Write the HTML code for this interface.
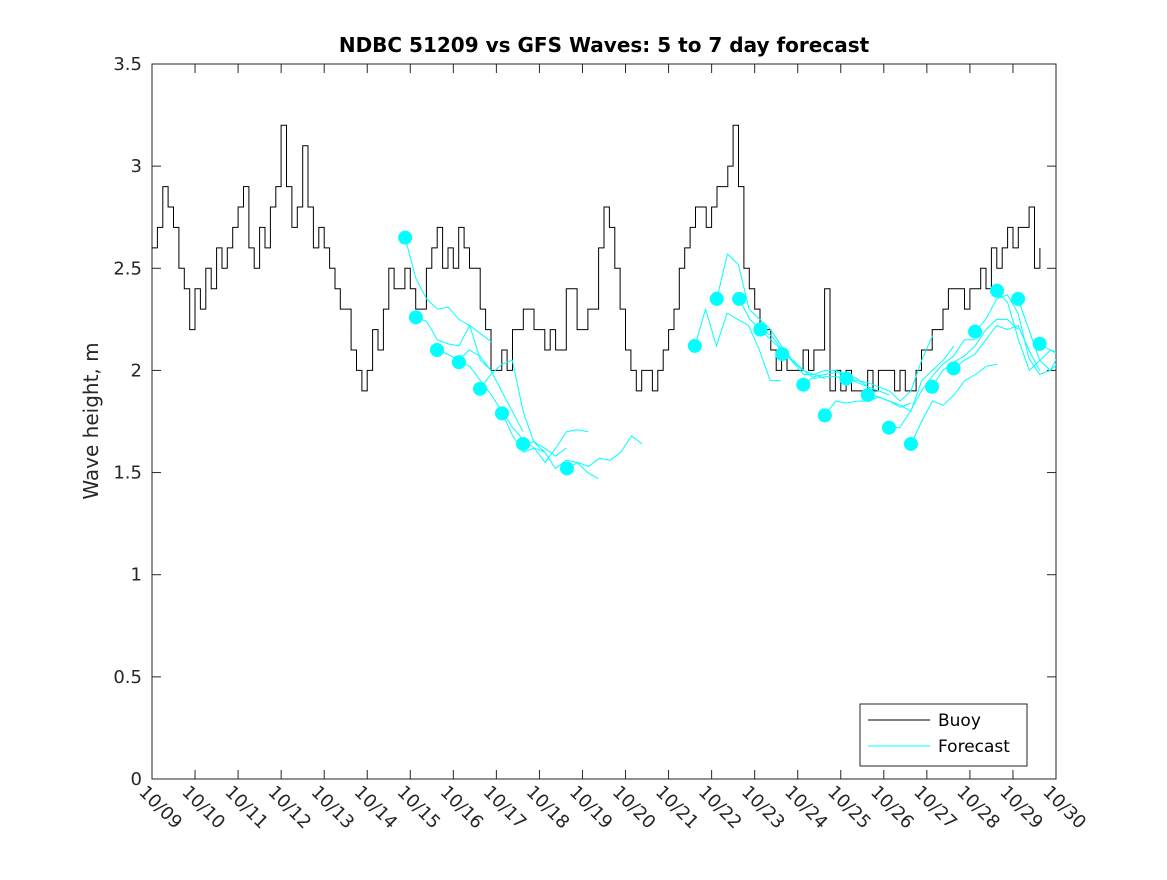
<!DOCTYPE html>
<html><head><meta charset="utf-8"><style>
body{margin:0;background:#fff;font-family:"Liberation Sans","DejaVu Sans",sans-serif}
svg text{font-family:"DejaVu Sans","Liberation Sans",sans-serif}
</style></head><body>
<svg id="chart" width="1167" height="875">
<rect width="1167" height="875" fill="#fff"/>
<text x="604" y="52" text-anchor="middle" font-size="20" font-weight="bold" fill="#000">NDBC 51209 vs GFS Waves: 5 to 7 day forecast</text>
<text transform="translate(98,421) rotate(-90)" text-anchor="middle" font-size="20" fill="#262626">Wave height, m</text>
<g id="axes"></g>
<g id="marks"></g>
<g id="legend">
<rect x="860" y="704" width="167" height="62" fill="#fff" stroke="#262626" stroke-width="1"/>
<line x1="868" y1="720" x2="930" y2="720" stroke="#000" stroke-width="1"/>
<text x="938" y="726" font-size="17" fill="#000">Buoy</text>
<line x1="868" y1="746" x2="930" y2="746" stroke="#00ffff" stroke-width="1"/>
<text x="938" y="752" font-size="17" fill="#000">Forecast</text>
</g>
</svg>
<script>
const xTickLabels=["10/09","10/10","10/11","10/12","10/13","10/14","10/15","10/16","10/17","10/18","10/19","10/20","10/21","10/22","10/23","10/24","10/25","10/26","10/27","10/28","10/29","10/30"];
const yTicks=[0,0.5,1,1.5,2,2.5,3,3.5];
const yTickLabels=["0","0.5","1","1.5","2","2.5","3","3.5"];
const buoyStart=0, buoyStep=0.125;
const buoyValues=[2.6,2.7,2.9,2.8,2.7,2.5,2.4,2.2,2.4,2.3,2.5,2.4,2.6,2.5,2.6,2.7,2.8,2.9,2.6,2.5,2.7,2.6,2.8,2.9,3.2,2.9,2.7,2.8,3.1,2.8,2.6,2.7,2.6,2.5,2.4,2.3,2.3,2.1,2.0,1.9,2.0,2.2,2.1,2.3,2.5,2.4,2.4,2.5,2.4,2.3,2.3,2.5,2.6,2.7,2.5,2.6,2.5,2.7,2.6,2.5,2.5,2.3,2.2,2.0,2.0,2.1,2.0,2.2,2.2,2.3,2.3,2.2,2.2,2.1,2.2,2.1,2.1,2.4,2.4,2.2,2.2,2.3,2.3,2.6,2.8,2.7,2.5,2.3,2.1,2.0,1.9,2.0,2.0,1.9,2.0,2.1,2.2,2.3,2.5,2.6,2.7,2.8,2.8,2.7,2.8,2.9,2.9,3.0,3.2,2.9,2.5,2.4,2.3,2.2,2.2,2.1,2.0,2.1,2.0,2.0,2.0,2.1,2.0,2.1,2.1,2.4,1.9,2.0,1.9,2.0,1.9,1.9,1.9,2.0,1.9,2.0,2.0,2.0,1.9,2.0,1.9,1.9,2.0,2.1,2.1,2.2,2.2,2.3,2.4,2.4,2.4,2.3,2.4,2.4,2.5,2.4,2.6,2.5,2.6,2.7,2.6,2.7,2.7,2.8,2.5,2.6];
const fcStarts=[5.88,6.13,6.62,7.13,7.62,8.13,8.62,9.64,12.61,13.12,13.64,14.13,14.64,15.13,15.63,16.13,16.63,17.12,17.63,18.12,18.62,19.12,19.63,20.12,20.62];
const fcValues=[
[2.65,2.45,2.35,2.30,2.31,2.25,2.22,2.05,2.0],
[2.26,2.24,2.15,2.13,2.12,2.22,2.18,2.14],
[2.10,2.08,2.05,2.10,2.07,2.00,1.90,1.80,1.70],
[2.04,2.02,1.95,1.88,1.80,1.72,1.66,1.62,1.60],
[1.91,1.98,2.03,2.05,1.80,1.65,1.62,1.58,1.62],
[1.79,1.68,1.60,1.62,1.55,1.62,1.70,1.71,1.70],
[1.64,1.65,1.60,1.52,1.56,1.55,1.50,1.47],
[1.52,1.55,1.53,1.57,1.56,1.60,1.68,1.64],
[2.12,2.30,2.12,2.28,2.25,2.22,2.10,1.95,1.95],
[2.35,2.57,2.52,2.30,2.25,2.20,2.12,2.05,2.00],
[2.35,2.25,2.20,2.17,2.10,2.04,1.98,1.98,1.96],
[2.20,2.15,2.10,2.05,2.00,1.98,2.00,2.00,1.98],
[2.08,2.05,2.00,1.96,1.97,1.97,1.96,1.94,1.92],
[1.93,1.97,1.98,1.99,1.98,1.96,1.92,1.90,1.88],
[1.78,1.85,1.84,1.85,1.85,1.87,1.85,1.82,1.84],
[1.96,1.95,1.94,1.92,1.90,1.85,1.90,2.05,2.17],
[1.88,1.87,1.85,1.83,1.80,1.95,2.00,2.05,2.12],
[1.72,1.72,1.80,1.90,1.97,2.03,2.07,2.15,2.15],
[1.64,1.75,1.85,1.83,1.88,1.95,1.98,2.02,2.03],
[1.92,2.00,2.04,2.07,2.12,2.20,2.25,2.25,2.20],
[2.01,2.05,2.08,2.15,2.22,2.20,2.22,2.10,2.00],
[2.19,2.25,2.35,2.37,2.28,2.06,1.98,2.00,2.10],
[2.39,2.33,2.15,2.00,2.05,2.10,2.08,2.05],
[2.35,2.20,2.05,2.00,2.05,2.10,2.12,2.05],
[2.13,2.10,2.07,2.03]];
const fcStep=0.25;

const X0=152,X1=1056,Y0=779,Y1=64;
const xs=d=>X0+(X1-X0)*d/21;
const ys=v=>Y0-(Y0-Y1)*v/3.5;
const NS="http://www.w3.org/2000/svg";
function mk(tag,attrs,parent){const e=document.createElementNS(NS,tag);for(const k in attrs)e.setAttribute(k,attrs[k]);parent.appendChild(e);return e;}
const axes=document.getElementById('axes'),marks=document.getElementById('marks');
const clip=mk('clipPath',{id:'pc'},axes);
mk('rect',{x:X0,y:Y1,width:X1-X0,height:Y0-Y1},clip);
marks.setAttribute('clip-path','url(#pc)');
const frame=mk('rect',{x:X0,y:Y1,width:X1-X0,height:Y0-Y1,fill:'none',stroke:'#262626','stroke-width':1},axes);


xTickLabels.forEach((lab,i)=>{
  const x=xs(i);
  mk('line',{x1:x,y1:Y0,x2:x,y2:Y0-9,stroke:'#262626'},axes);
  mk('line',{x1:x,y1:Y1,x2:x,y2:Y1+9,stroke:'#262626'},axes);
  const t=mk('text',{x:0,y:0,'font-size':18,fill:'#262626',transform:`translate(${x-14},${Y0+14}) rotate(45)`},axes);
  t.textContent=lab;
  
  
});
yTicks.forEach((v,i)=>{
  const y=ys(v);
  mk('line',{x1:X0,y1:y,x2:X0+9,y2:y,stroke:'#262626'},axes);
  mk('line',{x1:X1,y1:y,x2:X1-9,y2:y,stroke:'#262626'},axes);
  const t=mk('text',{x:X0-10,y:y+6,'font-size':18,fill:'#262626','text-anchor':'end'},axes);
  t.textContent=yTickLabels[i];
  
  
});
// buoy (stepped)
let pts=[];
buoyValues.forEach((v,i)=>{
  const xa=xs(buoyStart+i*buoyStep), xb=xs(buoyStart+(i+1)*buoyStep), y=ys(v);
  pts.push(xa.toFixed(1)+','+y.toFixed(1));
  if(i<buoyValues.length-1) pts.push(xb.toFixed(1)+','+y.toFixed(1));
});
const bl=mk('polyline',{points:pts.join(' '),fill:'none',stroke:'#000','stroke-width':1},marks);


// forecasts
fcValues.forEach((arr,k)=>{
  const p=arr.map((v,i)=>xs(fcStarts[k]+i*fcStep).toFixed(1)+','+ys(v).toFixed(1)).join(' ');
  const l=mk('polyline',{points:p,fill:'none',stroke:'#00ffff','stroke-width':1},marks);
  
  
});
fcValues.forEach((arr,k)=>{
  const c=mk('circle',{cx:xs(fcStarts[k]),cy:ys(arr[0]),r:7,fill:'#00ffff'},marks);
  
  
});
</script>
</body></html>
